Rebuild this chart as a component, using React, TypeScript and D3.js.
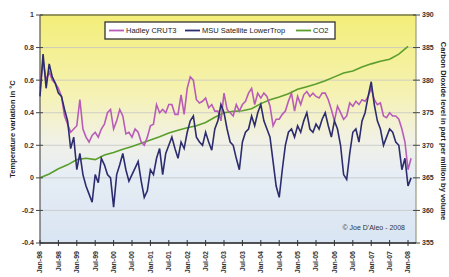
import React from "react";
import * as d3 from "d3";

// monthly anomalies, Jan 1998 .. Feb 2008 (deg C)
const hadley = [
  0.55, 0.72, 0.6, 0.65, 0.6, 0.58, 0.55, 0.5, 0.38, 0.33, 0.28, 0.3,
  0.32, 0.48, 0.3, 0.25, 0.22, 0.26, 0.28, 0.25, 0.3, 0.33, 0.4, 0.42,
  0.3, 0.35, 0.42, 0.38, 0.27, 0.28, 0.25, 0.3, 0.28, 0.22, 0.2, 0.25,
  0.32, 0.33, 0.45, 0.4, 0.42, 0.4, 0.45, 0.45, 0.39, 0.39, 0.51, 0.39,
  0.55, 0.62, 0.6, 0.48, 0.46, 0.47, 0.49, 0.43, 0.45, 0.41, 0.41, 0.35,
  0.52, 0.42, 0.4, 0.38, 0.45, 0.41, 0.45, 0.47, 0.52, 0.55, 0.45, 0.52,
  0.49, 0.52, 0.5, 0.44, 0.32, 0.36, 0.36, 0.39, 0.41, 0.47, 0.52, 0.41,
  0.5, 0.45, 0.51, 0.53, 0.5, 0.52, 0.5, 0.49, 0.52, 0.52, 0.48, 0.42,
  0.35, 0.44, 0.4, 0.36, 0.38, 0.46, 0.44, 0.47, 0.45, 0.48, 0.47, 0.5,
  0.55, 0.48, 0.45, 0.46, 0.38, 0.37, 0.4, 0.38, 0.38, 0.36, 0.3, 0.22,
  0.05, 0.12,
];

const msu = [
  0.5, 0.76, 0.55, 0.7, 0.62, 0.58, 0.52, 0.5, 0.42, 0.35, 0.18, 0.25,
  0.05, 0.15, 0.02, -0.05, -0.1, -0.15, 0.02, -0.03, 0.12, 0.08, 0.02, 0.0,
  -0.18, 0.02, 0.08, 0.15, 0.05, -0.02, 0.02, 0.06, 0.1, -0.02, -0.12, -0.08,
  0.05, 0.02, 0.12, 0.18, 0.02, 0.15, 0.2, 0.25, 0.18, 0.12, 0.22, 0.18,
  0.28, 0.35, 0.38, 0.25, 0.22, 0.2, 0.28, 0.22, 0.17, 0.3, 0.35, 0.45,
  0.4, 0.3, 0.22, 0.2, 0.12, 0.05, 0.22, 0.28, 0.3, 0.38, 0.32, 0.4,
  0.45, 0.35, 0.3, 0.25, 0.1, -0.05, -0.12, 0.05, 0.2, 0.28, 0.3, 0.25,
  0.32, 0.28, 0.35, 0.4, 0.3, 0.28, 0.33, 0.3, 0.36, 0.4, 0.32, 0.25,
  0.35, 0.3, 0.2, 0.02, -0.01, 0.15, 0.28, 0.3, 0.22, 0.35, 0.4, 0.5,
  0.59, 0.45, 0.35, 0.3, 0.2, 0.25, 0.3, 0.28, 0.22, 0.2, 0.05, 0.12,
  -0.05, 0.0,
];

// CO2 ppm, quarterly from Jan 1998
const co2 = [
  365.0, 365.6, 366.4, 367.0, 367.8, 368.0, 367.8, 368.5, 368.9, 369.4,
  369.8, 370.3, 370.8, 371.3, 371.9, 372.3, 372.7, 373.0, 373.5, 374.3,
  375.0, 375.2, 375.3, 375.6, 376.4, 377.0, 377.4, 377.9, 378.6, 379.0,
  379.4, 379.9, 380.5, 381.1, 381.4, 382.0, 382.5, 382.9, 383.2, 384.0,
  385.2,
];

const xLabels = [
  "Jan-98", "Jul-98", "Jan-99", "Jul-99", "Jan-00", "Jul-00", "Jan-01",
  "Jul-01", "Jan-02", "Jul-02", "Jan-03", "Jul-03", "Jan-04", "Jul-04",
  "Jan-05", "Jul-05", "Jan-06", "Jul-06", "Jan-07", "Jul-07", "Jan-08",
];
const tempTicks = [1, 0.8, 0.6, 0.4, 0.2, 0, -0.2, -0.4];
const co2Ticks = [390, 385, 380, 375, 370, 365, 360, 355];

const seriesNames = ["Hadley CRUT3", "MSU Satellite LowerTrop", "CO2"];
const colors = ["#b85cb8", "#2c2c6e", "#5a9e2c"];

const W = 449;
const H = 277;
const left = 40;
const right = 416;
const top = 15;
const bottom = 243;

export default function App() {
  const x = d3.scaleLinear().domain([0, 122.6]).range([left, right]);
  const y = d3.scaleLinear().domain([-0.4, 1]).range([bottom, top]);
  const y2 = d3.scaleLinear().domain([355, 390]).range([bottom, top]);

  const tempLine = d3
    .line<number>()
    .x((_, i) => x(i))
    .y((d) => y(d));
  const co2Line = d3
    .line<number>()
    .x((_, i) => x(i * 3))
    .y((d) => y2(d));

  const font = "'Liberation Sans', Arial, sans-serif";

  return (
    <svg
      width={W}
      height={H}
      style={{ position: "absolute", left: 0, top: 0, fontFamily: font }}
    >
      <defs>
        <linearGradient id="bg" x1="0" y1="0" x2="0" y2="1">
          <stop offset="0%" stopColor="#f3ee78" />
          <stop offset="35%" stopColor="#f5f2b4" />
          <stop offset="55%" stopColor="#f1f1e6" />
          <stop offset="70%" stopColor="#e6edf4" />
          <stop offset="100%" stopColor="#d9e5f3" />
        </linearGradient>
      </defs>
      <rect width={W} height={H} fill="#fff" />
      <rect
        x={left}
        y={top}
        width={right - left}
        height={bottom - top}
        fill="url(#bg)"
      />

      {/* grid */}
      {tempTicks.map((t) => (
        <line
          key={t}
          x1={left}
          x2={right}
          y1={y(t)}
          y2={y(t)}
          stroke="#c4c4c4"
          strokeWidth={0.8}
        />
      ))}

      {/* plot frame */}
      <line x1={left} x2={right} y1={top} y2={top} stroke="#7c7c3a" strokeWidth={1.5} />
      <line x1={right} x2={right} y1={top} y2={bottom} stroke="#9a9a80" strokeWidth={1.2} />
      <line x1={left} x2={left} y1={top} y2={bottom} stroke="#555" strokeWidth={1.2} />

      {/* series */}
      <path d={co2Line(co2) ?? ""} fill="none" stroke={colors[2]} strokeWidth={1.6} />
      <path d={tempLine(hadley) ?? ""} fill="none" stroke={colors[0]} strokeWidth={1.6} />
      <path d={tempLine(msu) ?? ""} fill="none" stroke={colors[1]} strokeWidth={1.6} />

      <line x1={left} x2={right} y1={bottom} y2={bottom} stroke="#222" strokeWidth={1.6} />

      {/* left axis */}
      {tempTicks.map((t) => (
        <g key={t}>
          <line x1={left - 4} x2={left + 3} y1={y(t)} y2={y(t)} stroke="#444" />
          <text
            x={left - 6}
            y={y(t)}
            dy="0.35em"
            textAnchor="end"
            fontSize={7}
            fontWeight="bold"
            fill="#333"
          >
            {t}
          </text>
        </g>
      ))}
      {/* right axis */}
      {co2Ticks.map((t) => (
        <g key={t}>
          <line x1={right - 3} x2={right + 4} y1={y2(t)} y2={y2(t)} stroke="#444" />
          <text
            x={right + 6}
            y={y2(t)}
            dy="0.35em"
            fontSize={7}
            fontWeight="bold"
            fill="#333"
          >
            {t}
          </text>
        </g>
      ))}
      {/* bottom axis */}
      {xLabels.map((l, i) => (
        <g key={l}>
          <line x1={x(i * 6)} x2={x(i * 6)} y1={bottom - 3} y2={bottom + 3} stroke="#333" />
          <text
            transform={`translate(${x(i * 6)},${bottom + 8}) rotate(-90)`}
            dy="0.35em"
            textAnchor="end"
            fontSize={7}
            fontWeight="bold"
            fill="#333"
          >
            {l}
          </text>
        </g>
      ))}

      {/* axis titles */}
      <text
        transform={`translate(12,${(top + bottom) / 2}) rotate(-90)`}
        textAnchor="middle"
        dy="0.35em"
        fontSize={7.5}
        fontWeight="bold"
        fill="#222"
      >
        Temperature variation in °C
      </text>
      <text
        transform={`translate(444,${(top + bottom) / 2 + 2}) rotate(90)`}
        textAnchor="middle"
        dy="0.35em"
        fontSize={7.5}
        fontWeight="bold"
        fill="#222"
      >
        Carbon Dioxide level in part per million by volume
      </text>

      {/* legend */}
      <rect x={105} y={22} width={230} height={17} fill="#fff" stroke="#333" strokeWidth={1.3} />
      {[
        { x0: 109, tx: 126 },
        { x0: 185, tx: 202 },
        { x0: 296, tx: 313 },
      ].map((p, i) => (
        <g key={seriesNames[i]}>
          <line x1={p.x0} x2={p.x0 + 15} y1={30.5} y2={30.5} stroke={colors[i]} strokeWidth={1.8} />
          <text x={p.tx} y={30.5} dy="0.35em" fontSize={7.5} fill="#222">
            {seriesNames[i]}
          </text>
        </g>
      ))}

      <text x={405} y={230} textAnchor="end" fontSize={7} fill="#333">
        © Joe D'Aleo - 2008
      </text>
    </svg>
  );
}
